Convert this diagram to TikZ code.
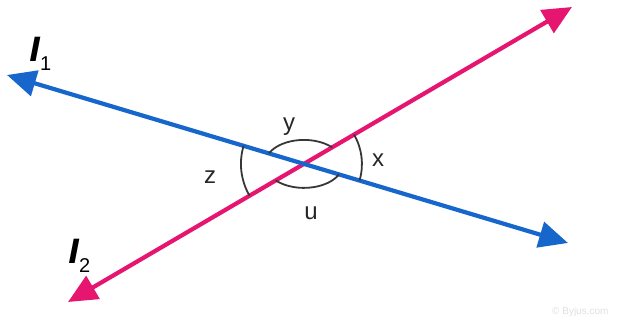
\documentclass[tikz,border=0pt]{standalone}
\usepackage{fontspec}
\setmainfont{Liberation Sans}
\newfontfamily\ellfont{DejaVu Sans}
\usetikzlibrary{arrows.meta}
\definecolor{lineblue}{RGB}{22,102,204}
\definecolor{linepink}{RGB}{230,22,112}
\definecolor{arcgray}{RGB}{55,55,55}
\tikzset{
  mainline/.style={line width=4.2pt, -{Triangle[length=29pt,width=26pt]}, shorten <=0pt},
  anglearc/.style={arcgray, line width=1.8pt},
  anglelabel/.style={font=\fontsize{24}{24}\selectfont, text=black!85, inner sep=0pt},
  linelabel/.style={font=\fontsize{32}{32}\selectfont\ellfont\bfseries\itshape, inner sep=0pt},
}
\begin{document}
\begin{tikzpicture}[x=1pt,y=1pt]
\useasboundingbox (0,0) rectangle (623,326);
\coordinate (B1) at (7,251);
\coordinate (B2) at (568,83);
\coordinate (P1) at (68,24);
\coordinate (P2) at (572,319);
\coordinate (O) at (intersection of B1--B2 and P1--P2);
% lines (drawn from centre outward so both ends get arrowheads)
\draw[mainline, linepink] (O) -- (P1);
\draw[mainline, linepink] (O) -- (P2);
\draw[mainline, lineblue] (O) -- (B1);
\draw[mainline, lineblue] (O) -- (B2);
% angle arcs
\draw[anglearc] (O) ++(-16.7:58) arc[start angle=-16.7, end angle=30.3, radius=58];
\draw[anglearc] (O) ++(163.3:63) arc[start angle=163.3, end angle=210.3, radius=63];
\draw[anglearc] (O) ++({39*cos(43.5)},{24*sin(43.5)}) arc[start angle=43.5, end angle=154, x radius=39, y radius=24];
\draw[anglearc] (O) ++({39*cos(223.5)},{24*sin(223.5)}) arc[start angle=223.5, end angle=334, x radius=39, y radius=24];
% labels
\node[anglelabel] (ly) at (289,199) {y};
\node[anglelabel] (lx) at (378,166) {x};
\node[anglelabel] (lz) at (210,149) {z};
\node[anglelabel] (lu) at (311,113) {u};
\node[linelabel, anchor=base west] (l1) at (29,264) {l\raisebox{-9pt}{\fontsize{20}{20}\selectfont\rmfamily\mdseries\upshape 1}};
\node[linelabel, anchor=base west] (l2) at (68,62) {l\raisebox{-9pt}{\fontsize{20}{20}\selectfont\rmfamily\mdseries\upshape 2}};
\node[font=\fontsize{10}{10}\selectfont, text=black!12, anchor=east] (wm) at (612,14) {© Byjus.com};
\end{tikzpicture}
\end{document}
